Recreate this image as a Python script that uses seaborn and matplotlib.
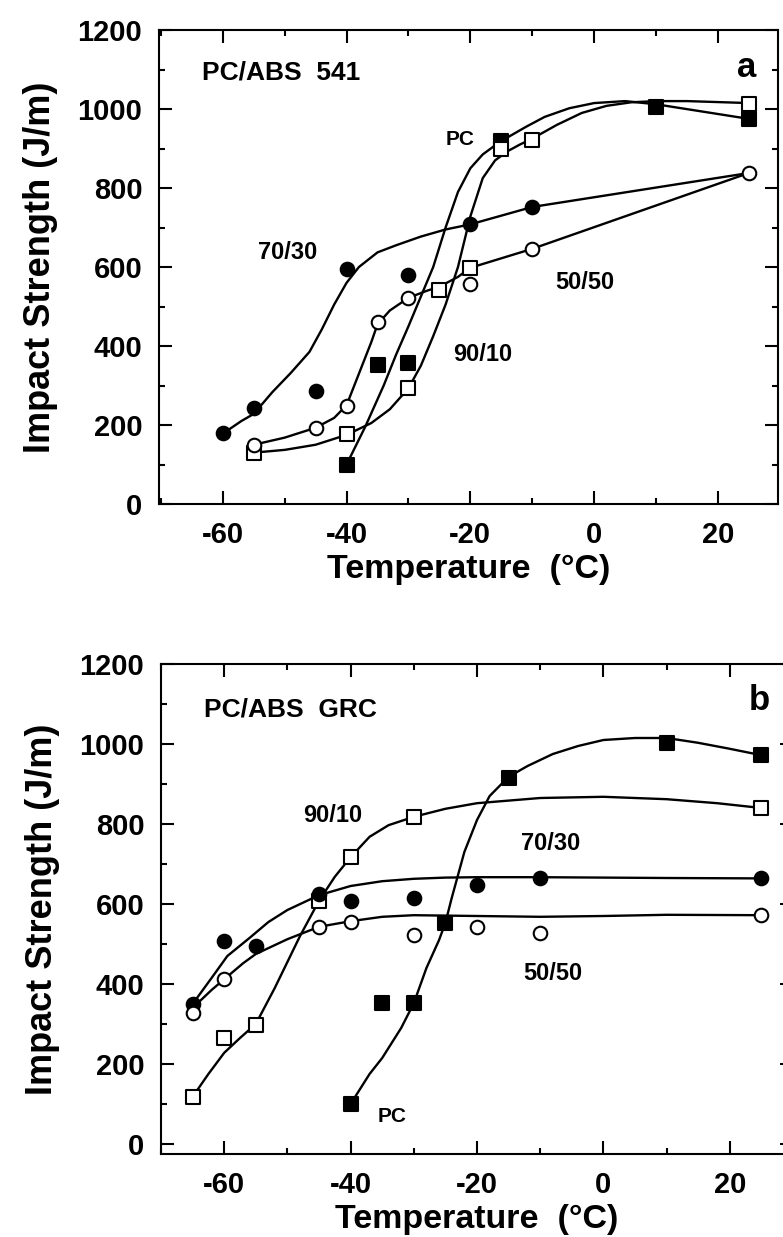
import numpy as np
import pandas as pd
import matplotlib.pyplot as plt
from matplotlib.ticker import MultipleLocator
import seaborn as sns

# ---- panel a: PC/ABS 541, measured points ----
a_pc_t = [-40, -35, -30, -15, 10, 25]
a_pc_y = [100, 353, 357, 920, 1005, 975]
a_9010_t = [-55, -40, -30, -25, -20, -15, -10, 25]
a_9010_y = [130, 178, 293, 542, 597, 900, 921, 1012]
a_7030_t = [-60, -55, -45, -40, -30, -20, -10]
a_7030_y = [180, 243, 285, 595, 581, 708, 752]
a_5050_t = [-55, -45, -40, -35, -30, -20, -10, 25]
a_5050_y = [150, 193, 248, 460, 522, 556, 646, 838]

# panel a hand-drawn fit curves
a_pc_fit_t = [-40, -37, -34, -32, -30, -28, -26, -24, -22, -20, -18, -16, -14, -11, -8, -4, 0, 5, 10, 25]
a_pc_fit_y = [100, 195, 300, 378, 450, 525, 600, 700, 790, 850, 885, 908, 928, 955, 980, 1002, 1015, 1020, 1012, 975]
a_9010_fit_t = [-55, -50, -45, -40, -36, -33, -30, -28, -26, -24, -22, -20, -18, -16, -14, -12, -10, -6, -2, 2, 6, 10, 15, 25]
a_9010_fit_y = [130, 137, 150, 175, 205, 240, 293, 350, 425, 505, 600, 728, 825, 870, 893, 910, 925, 960, 990, 1008, 1017, 1020, 1020, 1015]
a_7030_fit_t = [-60, -57, -55, -52, -49, -46, -44, -42, -40, -38, -35, -32, -28, -24, -20, -10, 25]
a_7030_fit_y = [178, 210, 228, 283, 332, 385, 442, 505, 560, 600, 637, 655, 677, 695, 708, 752, 838]
a_5050_fit_t = [-55, -50, -45, -42, -40, -38, -36, -35, -33, -30, -27, -25, -22, -20, -15, -10, 25]
a_5050_fit_y = [150, 168, 193, 218, 250, 330, 410, 455, 490, 522, 540, 550, 575, 598, 622, 646, 838]

# ---- panel b: PC/ABS GRC, measured points ----
b_pc_t = [-40, -35, -30, -25, -15, 10, 25]
b_pc_y = [100, 353, 353, 553, 915, 1003, 972]
b_9010_t = [-65, -60, -55, -45, -40, -30, 25]
b_9010_y = [118, 265, 297, 608, 717, 818, 840]
b_7030_t = [-65, -60, -55, -45, -40, -30, -20, -10, 25]
b_7030_y = [350, 507, 494, 625, 608, 614, 648, 665, 665]
b_5050_t = [-65, -60, -45, -40, -30, -20, -10, 25]
b_5050_y = [328, 412, 543, 555, 522, 542, 528, 572]

# panel b fit curves
b_pc_fit_t = [-40, -37, -35, -32, -30, -28, -26, -25, -24, -22, -20, -18, -15, -12, -8, -4, 0, 5, 10, 15, 20, 25]
b_pc_fit_y = [100, 175, 215, 290, 352, 440, 510, 553, 615, 730, 810, 870, 918, 945, 975, 995, 1010, 1015, 1015, 1003, 988, 972]
b_9010_fit_t = [-65, -62.5, -60, -57.5, -55, -52, -50, -48, -45, -42.5, -40, -37, -34, -30, -25, -20, -10, 0, 10, 18, 25]
b_9010_fit_y = [118, 175, 228, 265, 300, 390, 455, 520, 608, 668, 717, 768, 797, 818, 838, 852, 865, 868, 862, 852, 840]
b_7030_fit_t = [-65, -62, -59.5, -56, -53, -50, -45, -40, -35, -30, -25, -20, -10, 0, 10, 25]
b_7030_fit_y = [350, 415, 470, 515, 555, 585, 622, 645, 657, 663, 666, 667, 667, 666, 665, 664]
b_5050_fit_t = [-65, -62, -60, -57, -55, -50, -45, -40, -35, -30, -20, -10, 0, 10, 25]
b_5050_fit_y = [340, 385, 412, 452, 475, 512, 543, 557, 568, 572, 570, 568, 570, 573, 572]

blends = ['PC', '90/10', '70/30', '50/50']
markers = {'PC': 's', '90/10': 's', '70/30': 'o', '50/50': 'o'}
filled = {'PC': True, '90/10': False, '70/30': True, '50/50': False}


def frame(parts):
    rows = []
    for name, t, y in parts:
        rows.append(pd.DataFrame({'temp': t, 'impact': y, 'blend': name}))
    return pd.concat(rows, ignore_index=True)


pts_a = frame([('PC', a_pc_t, a_pc_y), ('90/10', a_9010_t, a_9010_y),
               ('70/30', a_7030_t, a_7030_y), ('50/50', a_5050_t, a_5050_y)])
fit_a = frame([('PC', a_pc_fit_t, a_pc_fit_y), ('90/10', a_9010_fit_t, a_9010_fit_y),
               ('70/30', a_7030_fit_t, a_7030_fit_y), ('50/50', a_5050_fit_t, a_5050_fit_y)])
pts_b = frame([('PC', b_pc_t, b_pc_y), ('90/10', b_9010_t, b_9010_y),
               ('70/30', b_7030_t, b_7030_y), ('50/50', b_5050_t, b_5050_y)])
fit_b = frame([('PC', b_pc_fit_t, b_pc_fit_y), ('90/10', b_9010_fit_t, b_9010_fit_y),
               ('70/30', b_7030_fit_t, b_7030_fit_y), ('50/50', b_5050_fit_t, b_5050_fit_y)])

sns.set_theme(style='ticks')
plt.rcParams['font.family'] = ['Liberation Sans', 'DejaVu Sans']
plt.rcParams['font.weight'] = 'bold'
plt.rcParams['axes.unicode_minus'] = False
plt.rcParams['text.color'] = 'black'
plt.rcParams['axes.labelcolor'] = 'black'
plt.rcParams['xtick.color'] = 'black'
plt.rcParams['ytick.color'] = 'black'

W, H = 783, 1237
fig = plt.figure(figsize=(W / 100, H / 100), dpi=100)
ax_a = fig.add_axes([159 / W, 1 - 504 / H, 619 / W, 474 / H])
ax_b = fig.add_axes([161 / W, 1 - 1154 / H, 632 / W, 490 / H])


def draw(ax, pts, fit, xlim, ylim):
    sns.lineplot(data=fit, x='temp', y='impact', hue='blend', palette={b: 'black' for b in blends},
                 estimator=None, sort=False, legend=False, lw=1.7, ax=ax, zorder=2)
    for b in blends:
        sub = pts[pts['blend'] == b]
        sns.scatterplot(data=sub, x='temp', y='impact', marker=markers[b], s=95,
                        color='black' if filled[b] else 'white', edgecolor='black',
                        linewidth=1.5, legend=False, ax=ax, zorder=3)
    ax.set_xlim(*xlim)
    ax.set_ylim(*ylim)
    ax.set_xticks([-60, -40, -20, 0, 20])
    ax.xaxis.set_minor_locator(MultipleLocator(10))
    ax.set_yticks(np.arange(0, 1201, 200))
    ax.yaxis.set_minor_locator(MultipleLocator(100))
    ax.tick_params(which='both', direction='in', top=True, right=True, width=1.5,
                   color='black', labelcolor='black')
    ax.tick_params(which='major', length=9.5, labelsize=21, pad=12)
    ax.tick_params(which='minor', length=4.5)
    for sp in ax.spines.values():
        sp.set_linewidth(1.5)
        sp.set_color('black')
    ax.set_xlabel('Temperature  (°C)', fontsize=24.5, fontweight='bold', labelpad=4, color='black')
    ax.set_ylabel('Impact Strength (J/m)', fontsize=26, fontweight='bold', labelpad=14, color='black')


draw(ax_a, pts_a, fit_a, (-70.3, 29.7), (0, 1200))
draw(ax_b, pts_b, fit_b, (-70, 30), (-25, 1200))

ax_a.text(-63.3, 1092, 'PC/ABS  541', fontsize=19, fontweight='bold', ha='left', va='center')
ax_a.text(24.6, 1104, 'a', fontsize=25, fontweight='bold', ha='center', va='center')
ax_a.text(-21.6, 923, 'PC', fontsize=15, fontweight='bold', ha='center', va='center')
ax_a.text(-49.6, 636, '70/30', fontsize=17, fontweight='bold', ha='center', va='center')
ax_a.text(-1.5, 560, '50/50', fontsize=17, fontweight='bold', ha='center', va='center')
ax_a.text(-18, 378, '90/10', fontsize=17, fontweight='bold', ha='center', va='center')

ax_b.text(-63.2, 1087, 'PC/ABS  GRC', fontsize=19, fontweight='bold', ha='left', va='center')
ax_b.text(24.6, 1108, 'b', fontsize=25, fontweight='bold', ha='center', va='center')
ax_b.text(-42.8, 822, '90/10', fontsize=17, fontweight='bold', ha='center', va='center')
ax_b.text(-8.3, 751, '70/30', fontsize=17, fontweight='bold', ha='center', va='center')
ax_b.text(-8, 427, '50/50', fontsize=17, fontweight='bold', ha='center', va='center')
ax_b.text(-33.5, 70, 'PC', fontsize=15, fontweight='bold', ha='center', va='center')

fig.savefig('out.png', dpi=100)
